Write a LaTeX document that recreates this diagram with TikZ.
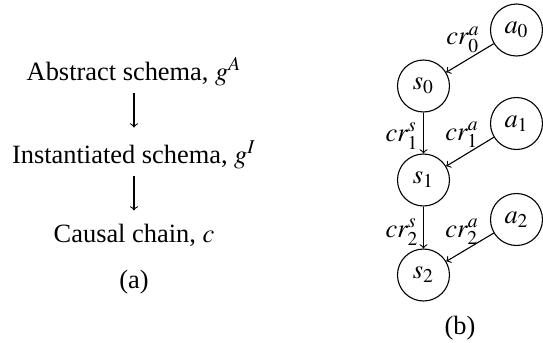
\documentclass[tikz,border=0pt]{standalone}
\usepackage{mathptmx}
\usepackage[no-math]{fontspec}
\setmainfont{Liberation Serif}
\usetikzlibrary{arrows, positioning}

\begin{document}
\begin{tikzpicture}[x=0.5pt, y=-0.5pt, font=\fontsize{13.2pt}{16pt}\selectfont, line width=0.55pt,
    var/.style={draw, circle, minimum size=26pt, inner sep=0pt},
    flow/.style={->, shorten <=0pt, shorten >=3pt}]
    \useasboundingbox (0, 0) rectangle (543, 343);
    % (a)
    \node[anchor=base] (abstract) at (134, 80) {Abstract schema, $g^A$};
    \node[anchor=base] (inst) at (134, 163) {Instantiated schema, $g^I$};
    \node[anchor=base] (chain) at (134, 242) {Causal chain, $c$};
    \node[anchor=base] (capa) at (134, 288) {(a)};
    \draw
    (abstract) edge[flow] (inst)
    (inst) edge[flow] (chain);
    % (b)
    \node[var] (s0) at (423.5, 86) {$s_0$};
    \node[var] (s1) at (423.5, 180) {$s_1$};
    \node[var] (s2) at (423.5, 275) {$s_2$};
    \node[var] (a0) at (516.5, 30) {$a_0$};
    \node[var] (a1) at (516.5, 123.5) {$a_1$};
    \node[var] (a2) at (516.5, 219.5) {$a_2$};
    \node (cra0) at (463, 40) {$cr^a_0$};
    \node (crs1) at (402, 136) {$cr^s_1$};
    \node (cra1) at (462, 135) {$cr^a_1$};
    \node (crs2) at (402, 232) {$cr^s_2$};
    \node (cra2) at (462, 232) {$cr^a_2$};
    \node (capb) at (460, 328) {(b)};
    \draw
    (a0) edge[->] (s0)
    (s0) edge[->] (s1)
    (a1) edge[->] (s1)
    (s1) edge[->] (s2)
    (a2) edge[->] (s2);
\end{tikzpicture}
\end{document}
